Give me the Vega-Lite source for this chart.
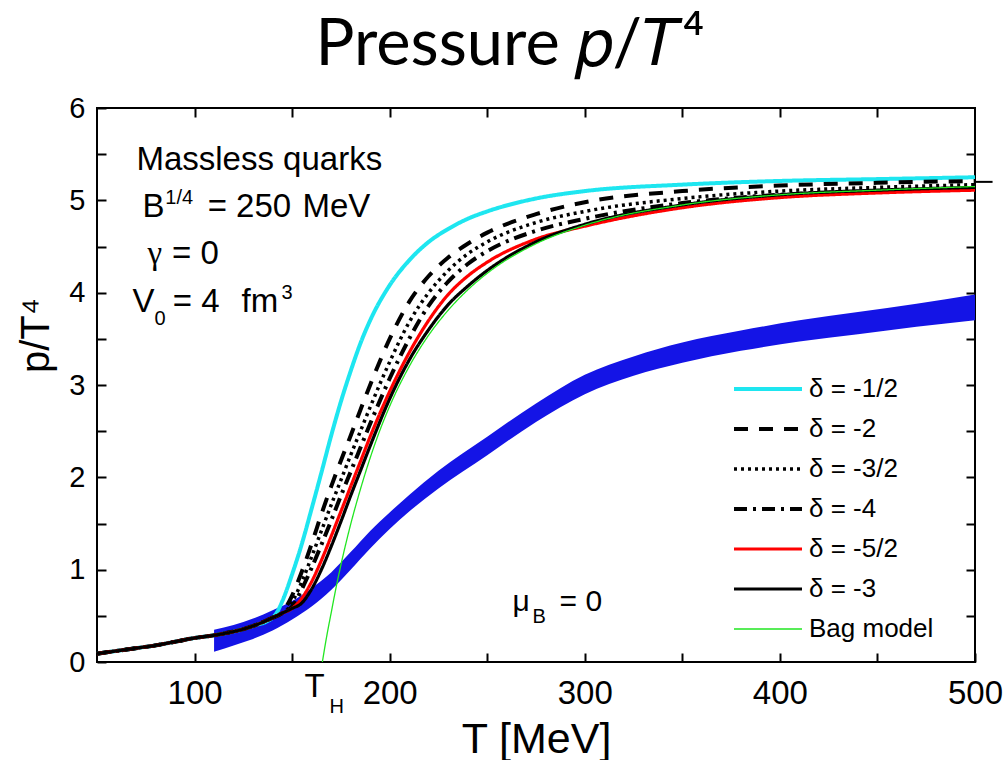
{
  "$schema": "https://vega.github.io/schema/vega-lite/v6.json",
  "width": 878,
  "height": 554,
  "autosize": "none",
  "padding": {"left": 97, "top": 108, "right": 32, "bottom": 98},
  "background": "white",
  "title": {"text": "Pressure 𝑝/𝑇⁴", "font": "Lato", "fontSize": 65, "fontWeight": "normal", "color": "black", "anchor": "middle", "offset": 15, "dx": -26},
  "config": {
    "font": "Liberation Sans",
    "view": {"stroke": "black", "strokeWidth": 2}
  },
  "datasets": {
    "band": [
      {"T":110,"lo":0.11,"hi":0.35},{"T":120,"lo":0.18,"hi":0.40},{"T":130,"lo":0.25,"hi":0.47},{"T":140,"lo":0.34,"hi":0.56},
      {"T":150,"lo":0.46,"hi":0.66},{"T":160,"lo":0.60,"hi":0.80},{"T":170,"lo":0.78,"hi":0.97},{"T":180,"lo":1.00,"hi":1.19},
      {"T":190,"lo":1.23,"hi":1.42},{"T":200,"lo":1.44,"hi":1.62},{"T":210,"lo":1.63,"hi":1.81},{"T":225,"lo":1.88,"hi":2.07},
      {"T":250,"lo":2.24,"hi":2.44},{"T":275,"lo":2.60,"hi":2.80},{"T":300,"lo":2.90,"hi":3.11},
      {"T":325,"lo":3.10,"hi":3.31},{"T":350,"lo":3.24,"hi":3.46},{"T":380,"lo":3.37,"hi":3.59},{"T":410,"lo":3.47,"hi":3.70},
      {"T":440,"lo":3.55,"hi":3.79},{"T":470,"lo":3.63,"hi":3.88},{"T":500,"lo":3.70,"hi":3.98}
    ],
    "lines": [
      {"s":"δ = -1/2","T":50,"v":0.09},{"s":"δ = -1/2","T":60,"v":0.12},{"s":"δ = -1/2","T":70,"v":0.15},{"s":"δ = -1/2","T":80,"v":0.18},{"s":"δ = -1/2","T":90,"v":0.22},{"s":"δ = -1/2","T":100,"v":0.26},{"s":"δ = -1/2","T":110,"v":0.29},{"s":"δ = -1/2","T":120,"v":0.33},{"s":"δ = -1/2","T":130,"v":0.39},{"s":"δ = -1/2","T":140,"v":0.48},
      {"s":"δ = -1/2","T":142,"v":0.53},{"s":"δ = -1/2","T":145,"v":0.66},{"s":"δ = -1/2","T":150,"v":0.95},{"s":"δ = -1/2","T":155,"v":1.28},{"s":"δ = -1/2","T":160,"v":1.66},{"s":"δ = -1/2","T":165,"v":2.05},{"s":"δ = -1/2","T":170,"v":2.45},{"s":"δ = -1/2","T":175,"v":2.82},{"s":"δ = -1/2","T":180,"v":3.15},{"s":"δ = -1/2","T":185,"v":3.45},{"s":"δ = -1/2","T":190,"v":3.7},{"s":"δ = -1/2","T":200,"v":4.08},{"s":"δ = -1/2","T":210,"v":4.35},{"s":"δ = -1/2","T":220,"v":4.55},{"s":"δ = -1/2","T":230,"v":4.69},{"s":"δ = -1/2","T":240,"v":4.8},{"s":"δ = -1/2","T":250,"v":4.88},{"s":"δ = -1/2","T":275,"v":5.02},{"s":"δ = -1/2","T":300,"v":5.1},{"s":"δ = -1/2","T":350,"v":5.17},{"s":"δ = -1/2","T":400,"v":5.21},{"s":"δ = -1/2","T":450,"v":5.23},{"s":"δ = -1/2","T":500,"v":5.25},

      {"s":"δ = -2","T":50,"v":0.09},{"s":"δ = -2","T":60,"v":0.12},{"s":"δ = -2","T":70,"v":0.15},{"s":"δ = -2","T":80,"v":0.18},{"s":"δ = -2","T":90,"v":0.22},{"s":"δ = -2","T":100,"v":0.26},{"s":"δ = -2","T":110,"v":0.29},{"s":"δ = -2","T":120,"v":0.33},{"s":"δ = -2","T":130,"v":0.39},{"s":"δ = -2","T":140,"v":0.48},
      {"s":"δ = -2","T":144,"v":0.52},{"s":"δ = -2","T":147,"v":0.6},{"s":"δ = -2","T":150,"v":0.72},{"s":"δ = -2","T":155,"v":0.98},{"s":"δ = -2","T":160,"v":1.28},{"s":"δ = -2","T":165,"v":1.6},{"s":"δ = -2","T":170,"v":1.9},{"s":"δ = -2","T":175,"v":2.18},{"s":"δ = -2","T":180,"v":2.45},{"s":"δ = -2","T":185,"v":2.73},{"s":"δ = -2","T":190,"v":3.0},{"s":"δ = -2","T":200,"v":3.5},{"s":"δ = -2","T":210,"v":3.9},{"s":"δ = -2","T":220,"v":4.18},{"s":"δ = -2","T":230,"v":4.38},{"s":"δ = -2","T":240,"v":4.53},{"s":"δ = -2","T":250,"v":4.65},{"s":"δ = -2","T":275,"v":4.85},{"s":"δ = -2","T":300,"v":4.98},{"s":"δ = -2","T":350,"v":5.1},{"s":"δ = -2","T":400,"v":5.16},{"s":"δ = -2","T":450,"v":5.19},{"s":"δ = -2","T":500,"v":5.21},

      {"s":"δ = -3/2","T":50,"v":0.09},{"s":"δ = -3/2","T":60,"v":0.12},{"s":"δ = -3/2","T":70,"v":0.15},{"s":"δ = -3/2","T":80,"v":0.18},{"s":"δ = -3/2","T":90,"v":0.22},{"s":"δ = -3/2","T":100,"v":0.26},{"s":"δ = -3/2","T":110,"v":0.29},{"s":"δ = -3/2","T":120,"v":0.33},{"s":"δ = -3/2","T":130,"v":0.39},{"s":"δ = -3/2","T":140,"v":0.48},
      {"s":"δ = -3/2","T":145,"v":0.53},{"s":"δ = -3/2","T":148,"v":0.58},{"s":"δ = -3/2","T":150,"v":0.65},{"s":"δ = -3/2","T":155,"v":0.87},{"s":"δ = -3/2","T":160,"v":1.14},{"s":"δ = -3/2","T":165,"v":1.42},{"s":"δ = -3/2","T":170,"v":1.7},{"s":"δ = -3/2","T":175,"v":1.97},{"s":"δ = -3/2","T":180,"v":2.24},{"s":"δ = -3/2","T":185,"v":2.5},{"s":"δ = -3/2","T":190,"v":2.76},{"s":"δ = -3/2","T":200,"v":3.25},{"s":"δ = -3/2","T":210,"v":3.68},{"s":"δ = -3/2","T":220,"v":4.0},{"s":"δ = -3/2","T":230,"v":4.24},{"s":"δ = -3/2","T":240,"v":4.42},{"s":"δ = -3/2","T":250,"v":4.55},{"s":"δ = -3/2","T":275,"v":4.76},{"s":"δ = -3/2","T":300,"v":4.88},{"s":"δ = -3/2","T":350,"v":5.02},{"s":"δ = -3/2","T":400,"v":5.1},{"s":"δ = -3/2","T":450,"v":5.14},{"s":"δ = -3/2","T":500,"v":5.17},

      {"s":"δ = -4","T":50,"v":0.09},{"s":"δ = -4","T":60,"v":0.12},{"s":"δ = -4","T":70,"v":0.15},{"s":"δ = -4","T":80,"v":0.18},{"s":"δ = -4","T":90,"v":0.22},{"s":"δ = -4","T":100,"v":0.26},{"s":"δ = -4","T":110,"v":0.29},{"s":"δ = -4","T":120,"v":0.33},{"s":"δ = -4","T":130,"v":0.39},{"s":"δ = -4","T":140,"v":0.48},
      {"s":"δ = -4","T":145,"v":0.53},{"s":"δ = -4","T":150,"v":0.6},{"s":"δ = -4","T":155,"v":0.79},{"s":"δ = -4","T":160,"v":1.02},{"s":"δ = -4","T":165,"v":1.27},{"s":"δ = -4","T":170,"v":1.53},{"s":"δ = -4","T":175,"v":1.8},{"s":"δ = -4","T":180,"v":2.06},{"s":"δ = -4","T":185,"v":2.32},{"s":"δ = -4","T":190,"v":2.58},{"s":"δ = -4","T":200,"v":3.07},{"s":"δ = -4","T":210,"v":3.5},{"s":"δ = -4","T":220,"v":3.86},{"s":"δ = -4","T":230,"v":4.12},{"s":"δ = -4","T":240,"v":4.31},{"s":"δ = -4","T":250,"v":4.45},{"s":"δ = -4","T":275,"v":4.67},{"s":"δ = -4","T":300,"v":4.8},{"s":"δ = -4","T":350,"v":4.97},{"s":"δ = -4","T":400,"v":5.06},{"s":"δ = -4","T":450,"v":5.1},{"s":"δ = -4","T":500,"v":5.13},

      {"s":"δ = -5/2","T":50,"v":0.09},{"s":"δ = -5/2","T":60,"v":0.12},{"s":"δ = -5/2","T":70,"v":0.15},{"s":"δ = -5/2","T":80,"v":0.18},{"s":"δ = -5/2","T":90,"v":0.22},{"s":"δ = -5/2","T":100,"v":0.26},{"s":"δ = -5/2","T":110,"v":0.29},{"s":"δ = -5/2","T":120,"v":0.33},{"s":"δ = -5/2","T":130,"v":0.39},{"s":"δ = -5/2","T":140,"v":0.48},
      {"s":"δ = -5/2","T":145,"v":0.53},{"s":"δ = -5/2","T":150,"v":0.58},{"s":"δ = -5/2","T":155,"v":0.69},{"s":"δ = -5/2","T":160,"v":0.87},{"s":"δ = -5/2","T":165,"v":1.1},{"s":"δ = -5/2","T":170,"v":1.36},{"s":"δ = -5/2","T":175,"v":1.63},{"s":"δ = -5/2","T":180,"v":1.9},{"s":"δ = -5/2","T":185,"v":2.17},{"s":"δ = -5/2","T":190,"v":2.44},{"s":"δ = -5/2","T":200,"v":2.93},{"s":"δ = -5/2","T":210,"v":3.35},{"s":"δ = -5/2","T":220,"v":3.7},{"s":"δ = -5/2","T":230,"v":3.98},{"s":"δ = -5/2","T":240,"v":4.18},{"s":"δ = -5/2","T":250,"v":4.33},{"s":"δ = -5/2","T":275,"v":4.58},{"s":"δ = -5/2","T":300,"v":4.72},{"s":"δ = -5/2","T":350,"v":4.92},{"s":"δ = -5/2","T":400,"v":5.03},{"s":"δ = -5/2","T":450,"v":5.08},{"s":"δ = -5/2","T":500,"v":5.11},

      {"s":"δ = -3","T":50,"v":0.09},{"s":"δ = -3","T":60,"v":0.12},{"s":"δ = -3","T":70,"v":0.15},{"s":"δ = -3","T":80,"v":0.18},{"s":"δ = -3","T":90,"v":0.22},{"s":"δ = -3","T":100,"v":0.26},{"s":"δ = -3","T":110,"v":0.29},{"s":"δ = -3","T":120,"v":0.33},{"s":"δ = -3","T":130,"v":0.39},{"s":"δ = -3","T":140,"v":0.48},
      {"s":"δ = -3","T":145,"v":0.53},{"s":"δ = -3","T":150,"v":0.58},{"s":"δ = -3","T":155,"v":0.64},{"s":"δ = -3","T":160,"v":0.79},{"s":"δ = -3","T":165,"v":1.0},{"s":"δ = -3","T":170,"v":1.25},{"s":"δ = -3","T":175,"v":1.52},{"s":"δ = -3","T":180,"v":1.8},{"s":"δ = -3","T":185,"v":2.07},{"s":"δ = -3","T":190,"v":2.34},{"s":"δ = -3","T":200,"v":2.85},{"s":"δ = -3","T":210,"v":3.27},{"s":"δ = -3","T":220,"v":3.6},{"s":"δ = -3","T":230,"v":3.87},{"s":"δ = -3","T":240,"v":4.07},{"s":"δ = -3","T":250,"v":4.24},{"s":"δ = -3","T":275,"v":4.55},{"s":"δ = -3","T":300,"v":4.74},{"s":"δ = -3","T":350,"v":4.95},{"s":"δ = -3","T":400,"v":5.06},{"s":"δ = -3","T":450,"v":5.11},{"s":"δ = -3","T":500,"v":5.14},

      {"s":"Bag model","T":165.5,"v":0},{"s":"Bag model","T":168,"v":0.31},{"s":"Bag model","T":170,"v":0.53},{"s":"Bag model","T":172,"v":0.75},{"s":"Bag model","T":175,"v":1.05},{"s":"Bag model","T":180,"v":1.49},{"s":"Bag model","T":185,"v":1.87},{"s":"Bag model","T":190,"v":2.21},{"s":"Bag model","T":195,"v":2.51},{"s":"Bag model","T":200,"v":2.77},{"s":"Bag model","T":210,"v":3.2},{"s":"Bag model","T":220,"v":3.54},{"s":"Bag model","T":230,"v":3.81},{"s":"Bag model","T":240,"v":4.03},{"s":"Bag model","T":250,"v":4.21},{"s":"Bag model","T":275,"v":4.53},{"s":"Bag model","T":300,"v":4.73},{"s":"Bag model","T":350,"v":4.95},{"s":"Bag model","T":400,"v":5.06},{"s":"Bag model","T":450,"v":5.11},{"s":"Bag model","T":500,"v":5.15}
    ],
    "sb": [{"T":500,"T2":509,"v":5.2}],
    "annBig": [
      {"t":"Massless quarks","T":70.2,"v":5.33},
      {"t":"B","T":73.3,"v":4.82},
      {"t":"= 250","T":106.7,"v":4.82},
      {"t":"MeV","T":155.3,"v":4.82},
      {"t":"= 0","T":88.5,"v":4.31},
      {"t":"V","T":68.2,"v":3.79},
      {"t":"= 4","T":88.8,"v":3.79},
      {"t":"fm","T":124.1,"v":3.79},
      {"t":"T","T":156.4,"v":-0.38}
    ],
    "annGreek": [
      {"t":"γ","T":75.9,"v":4.31}
    ],
    "annMid": [
      {"t":"μ","T":262.9,"v":0.55},
      {"t":"= 0","T":287.1,"v":0.55}
    ],
    "annSmall": [
      {"t":"1/4","T":85.0,"v":4.96},
      {"t":"0","T":79.5,"v":3.655},
      {"t":"3","T":144.6,"v":3.93},
      {"t":"B","T":273.2,"v":0.42},
      {"t":"H","T":169.2,"v":-0.55}
    ]
  },
  "layer": [
    {
      "layer": [
        {
          "data": {"name": "band"},
          "mark": {"type": "area", "color": "#1414e6", "opacity": 1, "interpolate": "monotone"},
          "encoding": {
            "x": {"field": "T", "type": "quantitative", "scale": {"domain": [50, 500], "nice": false, "zero": false},
              "axis": {"orient": "bottom", "title": "T [MeV]", "values": [100,150,200,250,300,350,400,450,500],
                "labelExpr": "datum.value % 100 === 0 ? format(datum.value, 'd') : ''",
                "offset": -9, "tickSize": 9,
                "tickWidth": 2, "tickColor": "black", "domain": false, "grid": false,
                "labelFontSize": 33, "labelColor": "black", "labelPadding": 15, "labelFlush": false,
                "titleFontSize": 43, "titleFontWeight": "normal", "titleColor": "black", "titleY": 99, "titleBaseline": "alphabetic"}},
            "y": {"field": "lo", "type": "quantitative", "scale": {"domain": [0, 6], "nice": false, "zero": false},
              "axis": {"orient": "left", "title": "p/T⁴", "values": [0,0.5,1,1.5,2,2.5,3,3.5,4,4.5,5,5.5,6],
                "labelExpr": "datum.value % 1 === 0 ? format(datum.value, 'd') : ''",
                "offset": -9, "tickSize": 9,
                "tickWidth": 2, "tickColor": "black", "domain": false, "grid": false,
                "labelFontSize": 29, "labelColor": "black", "labelPadding": 12, "labelFlush": false,
                "titleFontSize": 40, "titleFontWeight": "normal", "titleColor": "black", "titleX": -58, "titleY": 227, "titleBaseline": "alphabetic", "titleAlign": "center"}},
            "y2": {"field": "hi"}
          }
        },
        {
          "data": {"name": "lines"},
          "mark": {"type": "line", "interpolate": "monotone", "strokeCap": "butt"},
          "encoding": {
            "x": {"field": "T", "type": "quantitative", "title": "T [MeV]", "scale": {"domain": [50, 500], "nice": false, "zero": false}},
            "y": {"field": "v", "type": "quantitative", "title": "p/T⁴", "scale": {"domain": [0, 6], "nice": false, "zero": false}},
            "color": {"field": "s", "type": "nominal",
              "scale": {"domain": ["δ = -1/2","δ = -2","δ = -3/2","δ = -4","δ = -5/2","δ = -3","Bag model"],
                        "range": ["#1ee6f0","#000000","#000000","#000000","#ff0000","#000000","#22e622"]},
              "legend": {"title": null, "orient": "none", "legendX": 635, "legendY": 261, "symbolType": "stroke", "symbolSize": 4624,
                "clipHeight": 40, "rowPadding": 0, "padding": 0, "labelFontSize": 26, "labelOffset": 5, "labelColor": "black", "labelFont": "Liberation Sans", "labelLimit": 300}},
            "strokeDash": {"field": "s", "type": "nominal",
              "scale": {"domain": ["δ = -1/2","δ = -2","δ = -3/2","δ = -4","δ = -5/2","δ = -3","Bag model"],
                        "range": [[1,0],[14,11],[3,4],[13,6,3,6],[1,0],[1,0],[1,0]]}, "legend": {"title": null}},
            "strokeWidth": {"field": "s", "type": "ordinal",
              "scale": {"type": "ordinal", "domain": ["δ = -1/2","δ = -2","δ = -3/2","δ = -4","δ = -5/2","δ = -3","Bag model"],
                        "range": [4,4,3.5,4,3.2,3.2,1.3]}, "legend": {"title": null}}
          }
        },
        {
          "data": {"name": "sb"},
          "mark": {"type": "rule", "color": "black", "strokeWidth": 2},
          "encoding": {
            "x": {"field": "T", "type": "quantitative", "title": "T [MeV]", "scale": {"domain": [50, 500], "nice": false, "zero": false}},
            "x2": {"field": "T2"},
            "y": {"field": "v", "type": "quantitative", "title": "p/T⁴", "scale": {"domain": [0, 6], "nice": false, "zero": false}}
          }
        },
        {
          "data": {"name": "annBig"},
          "mark": {"type": "text", "fontSize": 33, "align": "left", "baseline": "alphabetic", "color": "black", "font": "Liberation Sans"},
          "encoding": {
            "x": {"field": "T", "type": "quantitative", "title": "T [MeV]", "scale": {"domain": [50, 500], "nice": false, "zero": false}},
            "y": {"field": "v", "type": "quantitative", "title": "p/T⁴", "scale": {"domain": [0, 6], "nice": false, "zero": false}},
            "text": {"field": "t"}
          }
        },
        {
          "data": {"name": "annGreek"},
          "mark": {"type": "text", "fontSize": 33, "align": "left", "baseline": "alphabetic", "color": "black", "font": "Liberation Serif"},
          "encoding": {
            "x": {"field": "T", "type": "quantitative", "title": "T [MeV]", "scale": {"domain": [50, 500], "nice": false, "zero": false}},
            "y": {"field": "v", "type": "quantitative", "title": "p/T⁴", "scale": {"domain": [0, 6], "nice": false, "zero": false}},
            "text": {"field": "t"}
          }
        },
        {
          "data": {"name": "annMid"},
          "mark": {"type": "text", "fontSize": 30, "align": "left", "baseline": "alphabetic", "color": "black", "font": "Liberation Sans"},
          "encoding": {
            "x": {"field": "T", "type": "quantitative", "title": "T [MeV]", "scale": {"domain": [50, 500], "nice": false, "zero": false}},
            "y": {"field": "v", "type": "quantitative", "title": "p/T⁴", "scale": {"domain": [0, 6], "nice": false, "zero": false}},
            "text": {"field": "t"}
          }
        },
        {
          "data": {"name": "annSmall"},
          "mark": {"type": "text", "fontSize": 20, "align": "left", "baseline": "alphabetic", "color": "black", "font": "Liberation Sans"},
          "encoding": {
            "x": {"field": "T", "type": "quantitative", "title": "T [MeV]", "scale": {"domain": [50, 500], "nice": false, "zero": false}},
            "y": {"field": "v", "type": "quantitative", "title": "p/T⁴", "scale": {"domain": [0, 6], "nice": false, "zero": false}},
            "text": {"field": "t"}
          }
        }
      ]
    },
    {
      "data": {"name": "band"},
      "mark": {"type": "point", "opacity": 0},
      "encoding": {
        "x": {"field": "T", "type": "quantitative", "scale": {"domain": [50, 500], "nice": false, "zero": false},
          "axis": {"orient": "top", "title": null, "labels": false, "values": [100,150,200,250,300,350,400,450],
            "offset": -9, "tickSize": 9, "tickWidth": 2, "tickColor": "black", "domain": false, "grid": false}},
        "y": {"field": "lo", "type": "quantitative", "scale": {"domain": [0, 6], "nice": false, "zero": false},
          "axis": {"orient": "right", "title": null, "labels": false, "values": [0.5,1,1.5,2,2.5,3,3.5,4,4.5,5,5.5],
            "offset": -9, "tickSize": 9, "tickWidth": 2, "tickColor": "black", "domain": false, "grid": false}}
      }
    }
  ],
  "resolve": {"axis": {"x": "independent", "y": "independent"}}
}
